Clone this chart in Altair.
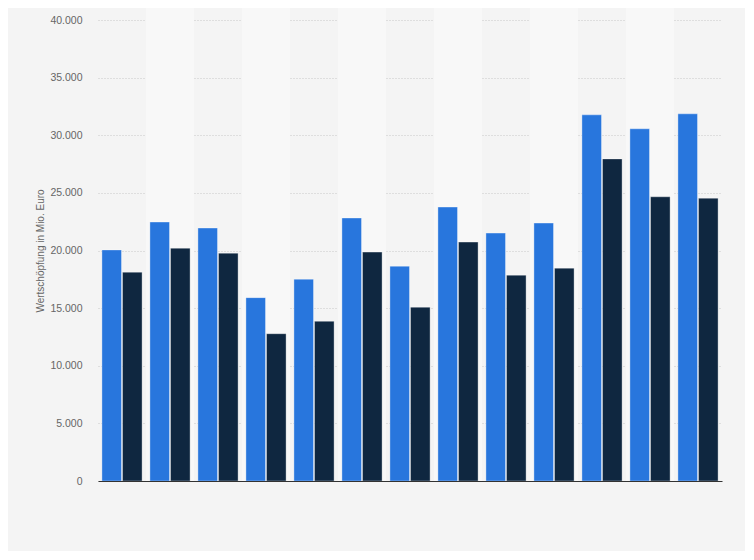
import altair as alt
import pandas as pd

groups = [str(i) for i in range(1, 14)]
series = ["Reihe 1", "Reihe 2"]
blue = [20050, 22470, 21950, 15910, 17510, 22820, 18640, 23770, 21510, 22380, 31770, 30560, 31860]
dark = [18120, 20200, 19770, 12780, 13860, 19860, 15080, 20730, 17860, 18470, 27950, 24660, 24540]
colors = ["#2876dd", "#0f2740"]

rows = []
for g, b, d in zip(groups, blue, dark):
    rows.append({"group": g, "series": series[0], "value": b})
    rows.append({"group": g, "series": series[1], "value": d})
df = pd.DataFrame(rows)

bands = pd.DataFrame({"group": groups, "idx": list(range(len(groups)))})

W, H = 624, 461

xscale = alt.Scale(domain=groups, paddingInner=0, paddingOuter=0)
xaxis = alt.Axis(labels=False, ticks=False, title=None, domainColor="#333333",
                 domainWidth=1.2, grid=False)

band_layer = alt.Chart(bands).transform_filter("datum.idx % 2 == 1").mark_rect(
    color="#f8f8f8"
).encode(
    x=alt.X("group:N", scale=xscale, axis=xaxis, sort=groups),
    y=alt.value(-12),
    y2=alt.value(H),
)

bars = alt.Chart(df).mark_bar(stroke="white", strokeOpacity=0.35, strokeWidth=1).encode(
    x=alt.X("group:N", scale=xscale, sort=groups, axis=xaxis),
    xOffset=alt.XOffset("series:N", sort=series,
                        scale=alt.Scale(paddingInner=0.05, paddingOuter=0.19)),
    y=alt.Y("value:Q", scale=alt.Scale(domain=[0, 40000], nice=False),
            axis=alt.Axis(values=list(range(0, 40001, 5000)),
                          labelExpr="replace(format(datum.value, ','), ',', '.')",
                          title="Wertschöpfung in Mio. Euro", titleFontWeight="normal",
                          titleColor="#666666", titleFontSize=10, titlePadding=4,
                          labelColor="#666666", labelFontSize=10.5, labelPadding=16,
                          domain=False, ticks=False, grid=True, gridColor="#c8c8c8",
                          gridDash=[1, 2], gridWidth=1)),
    color=alt.Color("series:N", sort=series,
                    scale=alt.Scale(domain=series, range=colors), legend=None),
)

chart = alt.layer(band_layer, bars).properties(
    width=W, height=H,
    autosize=alt.AutoSizeParams(type="none"),
    padding={"left": 90, "top": 12, "right": 23, "bottom": 70},
    background="#f4f4f4",
).configure(font="Liberation Sans").configure_view(strokeWidth=0, stroke="transparent")

chart.save("out.html", embed_options={"renderer": "svg", "actions": False})
